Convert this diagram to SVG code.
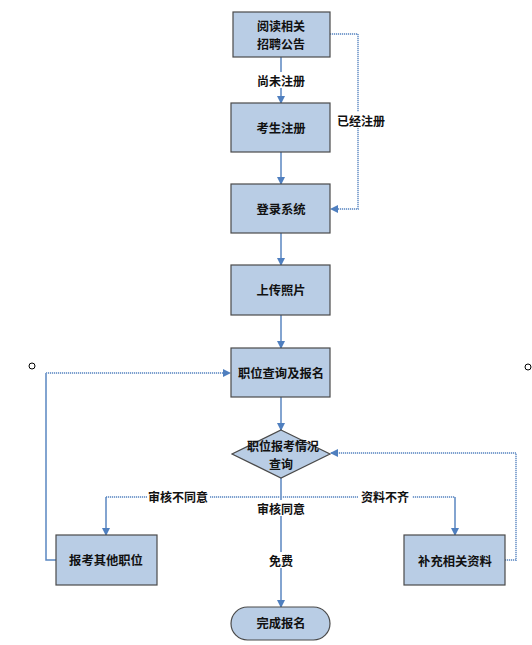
<svg xmlns="http://www.w3.org/2000/svg" width="532" height="645" viewBox="0 0 532 645">
<style>
.box{fill:#b9cde5;stroke:#4a4a4a;stroke-width:1.2}
.t{font-family:"Noto Sans CJK SC","Noto Sans",sans-serif;font-weight:bold;font-size:12.3px;fill:#111;text-anchor:middle;dominant-baseline:central}
.t2{font-size:12px}
.lbl{font-family:"Noto Sans CJK SC","Noto Sans",sans-serif;font-weight:bold;font-size:12px;fill:#111;text-anchor:middle;dominant-baseline:central}
.solid{fill:none;stroke:#5a86c1;stroke-width:1.5}
.dot{fill:none;stroke:#7ea1cf;stroke-width:1.8;stroke-dasharray:1.2 0.8}
.bg{fill:#fff}
</style>
<defs>
<marker id="ah" markerWidth="8" markerHeight="8" refX="7" refY="4" orient="auto" markerUnits="userSpaceOnUse">
<path d="M0,0 L8,4 L0,8 Z" fill="#4f7fbf"/>
</marker>
</defs>
<g id="connectors">
<path class="solid" d="M281,57 V103" marker-end="url(#ah)"/>
<path class="solid" d="M281,152 V184" marker-end="url(#ah)"/>
<path class="dot" d="M330,34 H358 V209 H331" marker-end="url(#ah)"/>
<path class="solid" d="M281,233 V265" marker-end="url(#ah)"/>
<path class="solid" d="M281,315 V348" marker-end="url(#ah)"/>
<path class="solid" d="M281,397 V430" marker-end="url(#ah)"/>
<path class="solid" d="M281,478 V607" marker-end="url(#ah)"/>
<path class="dot" d="M281,497 H106"/>
<path class="solid" d="M106,497 V535" marker-end="url(#ah)"/>
<path class="dot" d="M281,497 H455"/>
<path class="solid" d="M455,497 V535" marker-end="url(#ah)"/>
<path class="solid" d="M56,560 H46 V373"/>
<path class="dot" d="M46,373 H230" marker-end="url(#ah)"/>
<path class="dot" d="M505,560 H516 V453 H331" marker-end="url(#ah)"/>
<rect class="bg" x="254" y="72" width="54" height="16"/>
<text class="lbl" x="281" y="80">尚未注册</text>
<rect class="bg" x="335" y="112" width="52" height="16"/>
<text class="lbl" x="361" y="120">已经注册</text>
<rect class="bg" x="147" y="488" width="63" height="16"/>
<text class="lbl" x="178" y="496">审核不同意</text>
<rect class="bg" x="358" y="488" width="54" height="16"/>
<text class="lbl" x="385" y="496">资料不齐</text>
<rect class="bg" x="254" y="500" width="54" height="16"/>
<text class="lbl" x="281" y="508">审核同意</text>
<rect class="bg" x="266" y="552" width="30" height="16"/>
<text class="lbl" x="281" y="560">免费</text>
</g>
<g id="n1"><rect class="box" x="233" y="12" width="97" height="45"/><text class="t t2" x="281" y="25">阅读相关</text><text class="t t2" x="281" y="43">招聘公告</text></g>
<g id="n2"><rect class="box" x="231" y="103" width="99" height="49"/><text class="t" x="281" y="128">考生注册</text></g>
<g id="n3"><rect class="box" x="231" y="184" width="99" height="49"/><text class="t" x="281" y="209">登录系统</text></g>
<g id="n4"><rect class="box" x="231" y="265" width="99" height="50"/><text class="t" x="281" y="290">上传照片</text></g>
<g id="n5"><rect class="box" x="231" y="348" width="99" height="49"/><text class="t" x="281" y="373">职位查询及报名</text></g>
<g id="n6"><path class="box" d="M281,430 L330,454 L281,478 L232,454 Z"/><text class="t t2" x="283" y="445">职位报考情况</text><text class="t t2" x="281" y="463">查询</text></g>
<g id="n7"><rect class="box" x="56" y="535" width="101" height="50"/><text class="t" x="106" y="560">报考其他职位</text></g>
<g id="n8"><rect class="box" x="404" y="535" width="101" height="50"/><text class="t" x="455" y="561">补充相关资料</text></g>
<g id="n9"><rect class="box" x="231" y="607" width="99" height="33" rx="16.5"/><text class="t" x="281" y="623">完成报名</text></g>
<g id="handles">
<circle cx="32" cy="366" r="3" fill="#fff" stroke="#000" stroke-width="1"/>
<circle cx="528" cy="367" r="3" fill="#fff" stroke="#000" stroke-width="1"/>
</g>
</svg>
